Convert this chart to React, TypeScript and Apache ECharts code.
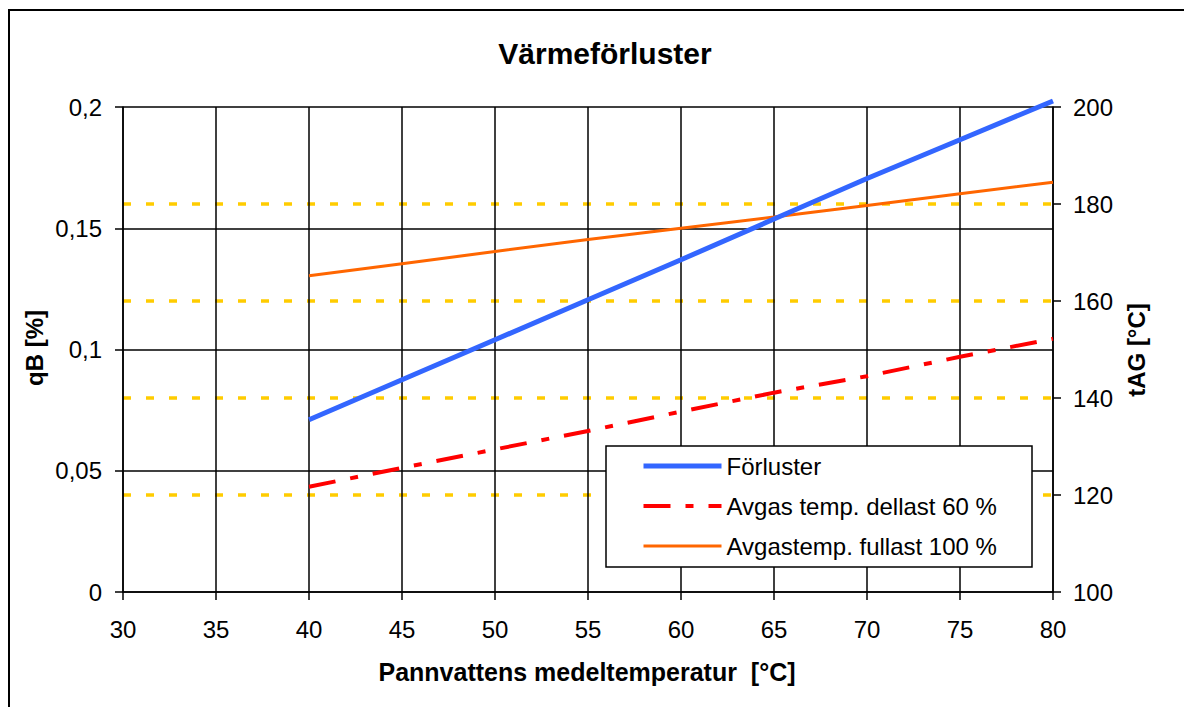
import React, { useEffect, useRef } from "react";
import * as echarts from "echarts";

const xValues = [40, 45, 50, 55, 60, 65, 70, 75, 80];
const forluster = [0.071, 0.0875, 0.104, 0.1205, 0.137, 0.1538, 0.1705, 0.1865, 0.2025];
const dellast60 = [121.7, 125.6, 129.4, 133.2, 137.2, 141.1, 144.5, 148.5, 152.2];
const fullast100 = [165.2, 167.7, 170.2, 172.7, 175.0, 177.3, 179.7, 182.1, 184.5];

const titleText = "Värmeförluster";
const xName = "Pannvattens medeltemperatur  [°C]";
const yLeftName = "qB [%]";
const yRightName = "tAG [°C]";
const seriesNames = ["Förluster", "Avgas temp. dellast 60 %", "Avgastemp. fullast 100 %"];

const FONT = "'Liberation Sans', Arial, sans-serif";

export default function App() {
  const ref = useRef<HTMLDivElement>(null);
  useEffect(() => {
    if (!ref.current) return;
    const chart = echarts.init(ref.current, null, { renderer: "svg" });
    const pairs = (ys: number[]) => xValues.map((x, i) => [x, ys[i]]);
    const axisLine = { show: true, lineStyle: { color: "#000", width: 1.5 } };
    const axisTick = { show: true, length: 8, inside: false, lineStyle: { color: "#000", width: 1.5 } };
    const label = { color: "#000", fontSize: 24, fontFamily: FONT };
    const blueStyle = { color: "#3366FF", width: 5 };
    const redStyle = { color: "#FF0000", width: 4, type: [27, 15, 8, 15], cap: "butt" };
    const orangeStyle = { color: "#FF6600", width: 3 };
    chart.setOption({
      animation: false,
      backgroundColor: "#fff",
      title: {
        text: titleText,
        left: 600,
        top: 33,
        textAlign: "center",
        textStyle: { fontFamily: FONT, fontSize: 30, fontWeight: "bold", color: "#000" },
      },
      grid: { left: 123, right: 131, top: 107, bottom: 115, containLabel: false },
      xAxis: {
        type: "value",
        min: 30,
        max: 80,
        interval: 5,
        axisLine,
        axisTick,
        axisLabel: { ...label, margin: 25 },
        splitLine: { show: true, lineStyle: { color: "#000", width: 1.5 } },
      },
      yAxis: [
        {
          type: "value",
          position: "left",
          min: 0,
          max: 0.2,
          interval: 0.05,
          axisLine,
          axisTick,
          axisLabel: {
            ...label,
            margin: 21,
            formatter: (v: number) => String(Math.round(v * 100) / 100).replace(".", ","),
          },
          splitLine: { show: true, lineStyle: { color: "#000", width: 1.5 } },
        },
        {
          type: "value",
          position: "right",
          min: 100,
          max: 200,
          interval: 20,
          axisLine,
          axisTick,
          axisLabel: { ...label, margin: 20 },
          splitLine: {
            show: true,
            showMinLine: false,
            showMaxLine: false,
            lineStyle: { color: "#FFCC00", width: 3.5, type: [8, 15] },
          },
        },
      ],
      legend: {
        orient: "vertical",
        left: 641,
        top: 454,
        padding: 0,
        itemWidth: 78,
        itemHeight: 20,
        itemGap: 16,
        z: 20,
        data: [
          { name: seriesNames[0], lineStyle: blueStyle },
          { name: seriesNames[1], lineStyle: redStyle },
          { name: seriesNames[2], lineStyle: orangeStyle },
        ],
        itemStyle: { opacity: 0 },
        textStyle: { color: "#000", fontSize: 24, fontFamily: FONT, lineHeight: 24 },
      },
      graphic: [
        {
          type: "rect",
          z: 10,
          shape: { x: 606, y: 446, width: 426, height: 121 },
          style: { fill: "#fff", stroke: "#000", lineWidth: 1.5 },
        },
        {
          type: "rect",
          z: 0,
          silent: true,
          shape: { x: 9, y: 10, width: 1220, height: 760 },
          style: { fill: "none", stroke: "#000", lineWidth: 2 },
        },
        {
          type: "text",
          x: 34,
          y: 348,
          rotation: Math.PI / 2,
          style: {
            text: yLeftName,
            align: "center",
            verticalAlign: "middle",
            font: `bold 24px ${FONT}`,
            fill: "#000",
          },
        },
        {
          type: "text",
          x: 1136,
          y: 350,
          rotation: Math.PI / 2,
          style: {
            text: yRightName,
            align: "center",
            verticalAlign: "middle",
            font: `bold 24px ${FONT}`,
            fill: "#000",
          },
        },
        {
          type: "text",
          x: 587,
          y: 672,
          style: {
            text: xName,
            align: "center",
            verticalAlign: "middle",
            font: `bold 25px ${FONT}`,
            fill: "#000",
          },
        },
      ],
      series: [
        {
          name: seriesNames[0],
          type: "line",
          yAxisIndex: 0,
          data: pairs(forluster),
          symbol: "none",
          clip: false,
          z: 5,
          itemStyle: { color: "#3366FF" },
          lineStyle: blueStyle,
        },
        {
          name: seriesNames[1],
          type: "line",
          yAxisIndex: 1,
          data: pairs(dellast60),
          symbol: "none",
          z: 4,
          itemStyle: { color: "#FF0000" },
          lineStyle: redStyle,
        },
        {
          name: seriesNames[2],
          type: "line",
          yAxisIndex: 1,
          data: pairs(fullast100),
          symbol: "none",
          z: 4,
          itemStyle: { color: "#FF6600" },
          lineStyle: orangeStyle,
        },
      ],
    });
    return () => chart.dispose();
  }, []);
  return (
    <div
      ref={ref}
      style={{ position: "fixed", left: 0, top: 0, width: 1184, height: 707 }}
    />
  );
}
